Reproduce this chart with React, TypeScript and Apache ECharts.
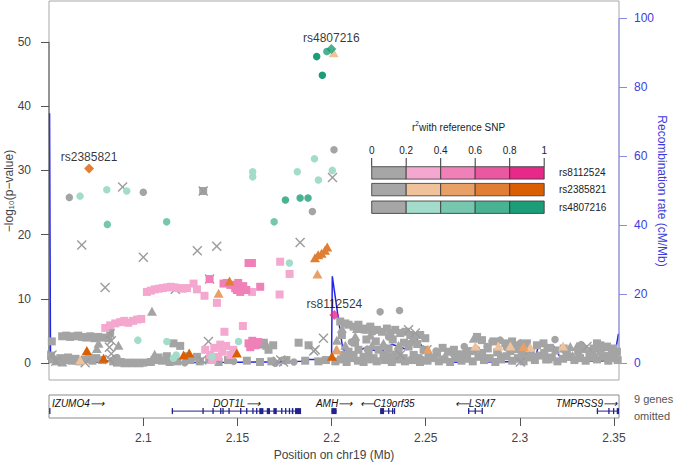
import React, { useEffect, useRef } from 'react';
import * as echarts from 'echarts';

const FONT = '"Liberation Sans", Arial, Helvetica, sans-serif';

// axis domains
const X_MIN = 2.0499;
const X_MAX = 2.3527;
const LOGP_MIN = -2.6;
const LOGP_MAX = 56.35;
const RATE_MIN = -4.84;
const RATE_MAX = 105.0;

const logpTicks = [0, 10, 20, 30, 40, 50];
const rateTicks = [0, 20, 40, 60, 80, 100];
const posTicks = [2.1, 2.15, 2.2, 2.25, 2.3, 2.35];
const legendTickLabels = ['0', '0.2', '0.4', '0.6', '0.8', '1'];

// recombination rate (cM/Mb)
const recombPos = [2.0502, 2.0507, 2.06, 2.078, 2.083, 2.09, 2.12, 2.15, 2.17, 2.184, 2.185, 2.2, 2.2004, 2.204, 2.206, 2.211, 2.218, 2.226, 2.232, 2.24, 2.245, 2.252, 2.26, 2.27, 2.275, 2.28, 2.3, 2.305, 2.308, 2.31, 2.318, 2.322, 2.34, 2.35, 2.3524];
const recombRate = [72.5, 0.8, 0.3, 0.4, 0.9, 0.3, 0.2, 0.3, 0.4, 0.6, 1.1, 1.1, 25.2, 11.5, 4.0, 3.0, 4.5, 3.2, 5.5, 4.0, 7.3, 1.9, 0.4, 0.3, 4.5, 0.4, 0.5, 3.9, 0.9, 5.3, 5.0, 1.2, 0.6, 0.9, 8.5];

// LD colour scales (r2 bins 0-0.2 .. 0.8-1)
const pinkScale = ['#a6a6a6', '#f4a7cf', '#ef80b8', '#ea58a1', '#e7298a'];
const orangeScale = ['#a6a6a6', '#f0c29c', '#e8a067', '#e07f33', '#d95f02'];
const greenScale = ['#a6a6a6', '#a3dccb', '#76c7ae', '#49b292', '#1b9e77'];
const legendRowNames = ['rs8112524', 'rs2385821', 'rs4807216'];

// index SNPs
const leadNames = ['rs4807216', 'rs2385821', 'rs8112524'];
const leadPos = [2.1999, 2.0712, 2.2015];
const leadLogP = [48.9, 30.3, 7.5];
const leadColors = [greenScale[4], orangeScale[4], pinkScale[4]];

// gray (r2 < 0.2) SNPs
const grayCircles = [
  [2.0607, 25.8], [2.1, 26.6], [2.2013, 33.2], [2.1898, 23.6],
  [2.1701, 0.0], [2.2258, 8.0], [2.2361, 8.2], [2.2162, 5.2], [2.2223, 4.9], [2.2303, 4.1], [2.2418, 3.1],
  [2.2826, 2.6], [2.2852, 3.4], [2.2896, 3.6], [2.3187, 3.7],
  [2.055, 0.4], [2.086, 0.9], [2.122, 0.1], [2.148, 0.3], [2.18, 0.2], [2.207, 1.0], [2.219, 2.2], [2.233, 1.4],
  [2.248, 0.6], [2.265, 1.3], [2.277, 2.2], [2.293, 2.4], [2.309, 1.1], [2.324, 1.9], [2.338, 2.0], [2.346, 1.2],
  [2.2105, 3.3], [2.2275, 2.6], [2.2555, 1.9], [2.2705, 2.6], [2.3005, 3.2], [2.3145, 2.3], [2.3325, 2.9],
];

const graySquares = [
  [2.1318, 26.8],
  [2.0514, 3.4], [2.0569, 4.2], [2.059, 4.3], [2.0611, 4.1], [2.0633, 4.2], [2.0654, 4.3], [2.0675, 4.1], [2.0696, 4.0],
  [2.0718, 4.2], [2.0739, 3.9], [2.076, 4.1], [2.0782, 4.0], [2.0815, 3.9], [2.0824, 4.9],
  [2.1081, 0.9], [2.1125, 1.1], [2.1196, 2.7], [2.1232, 1.1], [2.1285, 1.0], [2.116, 3.1],
  [2.1825, 3.2], [2.1878, 2.8], [2.1665, 2.1], [2.162, 2.9], [2.164, 3.2], [2.169, 2.8],
  [2.2046, 6.5], [2.2073, 6.2], [2.209, 6.0], [2.2117, 5.7], [2.2143, 6.0], [2.217, 5.4], [2.2188, 5.2], [2.2206, 5.7],
  [2.2241, 5.2], [2.2268, 4.9], [2.2294, 5.4], [2.2312, 4.7], [2.2338, 5.2], [2.2365, 4.7], [2.2392, 4.9], [2.2418, 4.4],
  [2.2436, 4.1], [2.2471, 4.4], [2.2498, 3.9],
  [2.2064, 1.3], [2.209, 1.8], [2.2117, 1.3], [2.2143, 2.1], [2.217, 1.0], [2.2197, 1.6], [2.2223, 0.8], [2.225, 2.1],
  [2.2276, 1.3], [2.2303, 2.3], [2.2329, 1.0], [2.2356, 1.8], [2.2383, 0.8], [2.2409, 2.6], [2.2436, 1.3], [2.2462, 0.8],
  [2.2489, 2.1], [2.2515, 1.0],
  [2.2055, 4.4], [2.2125, 3.2], [2.2185, 3.7], [2.2235, 3.4], [2.2325, 3.7], [2.2385, 3.2], [2.2455, 3.0],
  [2.2773, 4.1], [2.2799, 3.6], [2.2861, 3.4], [2.2923, 3.1], [2.2959, 3.4], [2.2985, 2.8], [2.3038, 3.1], [2.3091, 2.8],
  [2.3126, 3.1], [2.3233, 2.3], [2.3392, 2.3], [2.341, 3.1], [2.3428, 2.8], [2.3463, 2.6], [2.3498, 2.3], [2.3516, 1.8],
  [2.051, 1.2], [2.0525, 0.6], [2.054, 0.3], [2.056, 0.8], [2.058, 0.5], [2.06, 0.9], [2.062, 0.4], [2.064, 0.7],
  [2.066, 0.3], [2.069, 0.6], [2.071, 0.9], [2.073, 0.4], [2.075, 0.8], [2.078, 0.5], [2.084, 0.3], [2.086, 0.1],
  [2.088, 0.2], [2.09, 0.0], [2.092, 0.1], [2.094, 0.0], [2.096, 0.1], [2.098, 0.0], [2.1, 0.1], [2.104, 0.2],
  [2.106, 0.5], [2.11, 0.4], [2.114, 0.2], [2.118, 0.3], [2.125, 0.5], [2.13, 0.3], [2.135, 0.6], [2.14, 0.2],
  [2.145, 0.5], [2.155, 0.4], [2.162, 0.2], [2.168, 0.3], [2.176, 0.5], [2.186, 0.4], [2.193, 0.3], [2.197, 0.5],
  [2.202, 0.3], [2.205, 0.6], [2.208, 0.2], [2.211, 0.8], [2.214, 0.4], [2.217, 0.2], [2.221, 0.6], [2.224, 0.3],
  [2.228, 0.5], [2.232, 0.2], [2.235, 0.6], [2.239, 0.3], [2.243, 0.5], [2.247, 0.2], [2.251, 0.4], [2.254, 0.8],
  [2.257, 0.3], [2.26, 0.6], [2.263, 0.2], [2.266, 0.9], [2.269, 0.4], [2.272, 0.7], [2.275, 0.3], [2.278, 1.0],
  [2.281, 0.5], [2.284, 0.8], [2.287, 0.2], [2.29, 0.6], [2.293, 1.1], [2.296, 0.4], [2.299, 0.8], [2.302, 0.3],
  [2.305, 0.9], [2.308, 0.5], [2.311, 1.2], [2.314, 0.6], [2.317, 0.9], [2.32, 0.3], [2.323, 0.7], [2.326, 1.0],
  [2.329, 0.5], [2.332, 0.8], [2.335, 0.4], [2.338, 0.9], [2.341, 0.6], [2.344, 1.0], [2.347, 0.4], [2.35, 0.8],
  [2.352, 0.5],
  [2.256, 1.5], [2.262, 1.8], [2.268, 1.4], [2.274, 1.9], [2.28, 1.6], [2.288, 1.7], [2.295, 1.9], [2.301, 1.4],
  [2.306, 1.8], [2.313, 1.6], [2.319, 2.0], [2.325, 1.5], [2.331, 1.8], [2.337, 1.4], [2.343, 1.9], [2.349, 1.6],
  [2.259, 2.4], [2.265, 2.1], [2.283, 2.3], [2.298, 2.2], [2.316, 2.4], [2.334, 2.2], [2.345, 2.5],
];

const grayTriangles = [
  [2.1046, 8.1], [2.0753, 2.3], [2.0762, 3.1], [2.0868, 2.8], [2.1657, 2.8], [2.2028, 3.6], [2.2025, 2.1],
  [2.2055, 5.4], [2.2126, 4.2], [2.2135, 5.4], [2.2206, 4.4], [2.2073, 2.8], [2.2215, 2.8], [2.2276, 3.1],
  [2.2356, 2.8], [2.2755, 3.9], [2.3268, 2.6], [2.3304, 2.7],
  [2.052, 0.9], [2.057, 0.2], [2.065, 0.5], [2.106, 1.4], [2.136, 0.8], [2.21, 0.9], [2.23, 1.5], [2.245, 1.2],
  [2.26, 1.0], [2.271, 2.0], [2.29, 1.3], [2.304, 2.2], [2.315, 0.7], [2.328, 1.2], [2.34, 1.3],
];

const grayCrosses = [
  [2.089, 27.4], [2.2005, 28.9], [2.0673, 18.4], [2.1, 16.5], [2.1287, 17.5], [2.139, 18.2], [2.1833, 18.8],
  [2.0797, 11.8], [2.1318, 26.8], [2.117, 11.5], [2.1352, 13.1],
  [2.0824, 4.6], [2.083, 3.5], [2.082, 2.5], [2.083, 1.5], [2.0822, 0.6], [2.1346, 3.4], [2.1311, 0.5], [2.1382, 0.8],
  [2.0515, 1.3], [2.0535, 0.3], [2.0691, 0.1], [2.1712, 0.3], [2.173, 0.5], [2.1745, 0.2], [2.1913, 2.1],
  [2.1957, 3.9], [2.1905, 1.9], [2.2409, 5.2], [2.2445, 4.7], [2.2365, 1.3], [2.2507, 2.1], [2.3003, 0.2],
  [2.3357, 2.6],
];

// rs4807216 LD (circles)
const greenLight = [
  [2.0664, 26.0], [2.0806, 27.0], [2.0912, 26.8], [2.1581, 29.8], [2.1581, 29.0], [2.1818, 29.8], [2.1909, 31.8],
  [2.193, 28.5], [2.2004, 30.0], [2.1776, 15.6],
  [2.0971, 3.6], [2.1125, 3.4], [2.1175, 1.3], [2.116, 0.8], [2.1365, 1.0], [2.1506, 3.4],
];
const greenMid = [[2.0809, 21.6], [2.1124, 22.0], [2.1695, 22.0]];
const greenHigh = [[2.1755, 25.4], [2.1833, 25.7], [2.1875, 25.7], [2.1975, 48.5]];
const greenTop = [[2.1921, 47.7], [2.1951, 44.8]];

// rs8112524 LD (squares)
const pinkLight = [
  [2.0798, 5.5], [2.0824, 5.9], [2.0851, 6.2], [2.0877, 6.4], [2.0899, 6.6], [2.092, 6.3], [2.0946, 6.6], [2.0968, 6.8], [2.0989, 6.9],
  [2.1019, 11.1], [2.104, 11.3], [2.1061, 11.5], [2.1082, 11.6], [2.1104, 11.7], [2.1125, 11.8], [2.1146, 11.9], [2.1167, 11.8],
  [2.1188, 11.7], [2.121, 11.6], [2.1232, 11.7], [2.1267, 12.4], [2.1285, 11.5], [2.1325, 10.5], [2.1391, 9.4],
  [2.1431, 4.9], [2.1529, 5.8], [2.1577, 11.1], [2.1727, 15.8], [2.1777, 13.9], [2.1724, 10.7],
  [2.1329, 2.1], [2.1355, 1.3], [2.1377, 2.4], [2.1398, 1.0], [2.1419, 1.8], [2.144, 2.7], [2.1462, 1.3], [2.1478, 2.1],
  [2.1366, 0.5], [2.1409, 2.9],
];
const pinkMid = [
  [2.1352, 13.1], [2.1426, 12.4], [2.1444, 12.5], [2.1479, 12.2], [2.1497, 11.4], [2.1462, 12.2], [2.1488, 11.7],
  [2.1515, 11.1], [2.1531, 12.0], [2.1547, 11.4], [2.1504, 12.5], [2.1559, 15.6], [2.1577, 15.6], [2.1621, 11.9],
  [2.1559, 3.1], [2.1579, 3.5], [2.1595, 2.8], [2.1611, 3.3], [2.1568, 2.5],
];

// rs2385821 LD (triangles)
const orangeLight = [[2.0665, 0.5], [2.2011, 48.3], [2.2764, 2.7], [2.2887, 2.7], [2.295, 2.7], [2.3056, 2.5], [2.323, 2.7]];
const orangeMid = [[2.1925, 13.9], [2.14, 10.9], [2.2512, 2.2], [2.2029, 2.1], [2.302, 2.6]];
const orangeHigh = [[2.1912, 16.4], [2.1929, 16.9], [2.1947, 17.1], [2.1965, 17.6], [2.1977, 18.1], [2.1458, 12.8]];
const orangeTop = [[2.07, 2.0], [2.0789, 0.8], [2.1214, 1.3], [2.1244, 1.6], [2.1497, 1.6], [2.2002, 1.1]];

// genes
const geneNames = ['IZUMO4', 'DOT1L', 'AMH', 'C19orf35', 'LSM7', 'TMPRSS9'];
const geneStrand = ['+', '+', '+', '-', '-', '+'];
const geneStart = [2.05, 2.1151, 2.1999, 2.2258, 2.2725, 2.3409];
const geneEnd = [2.0503, 2.1838, 2.2027, 2.2332, 2.2798, 2.3527];
const geneExons = [
  [[2.05, 2.0502]],
  [[2.1151, 2.1152], [2.1314, 2.1315], [2.1367, 2.1368], [2.1408, 2.1409], [2.142, 2.1421], [2.1452, 2.1453], [2.1514, 2.1515],
   [2.1546, 2.1547], [2.1579, 2.158], [2.1599, 2.16], [2.1616, 2.1638], [2.1656, 2.1673], [2.1691, 2.1709], [2.1732, 2.1733],
   [2.1753, 2.1754], [2.1773, 2.1774], [2.1789, 2.1797], [2.1806, 2.1838]],
  [[2.1999, 2.2027]],
  [[2.2258, 2.2279], [2.23, 2.2301], [2.2321, 2.2322], [2.2331, 2.2332]],
  [[2.2725, 2.2726], [2.276, 2.2761], [2.2797, 2.2798]],
  [[2.3409, 2.341], [2.347, 2.3471], [2.3495, 2.3496], [2.3515, 2.3527]],
];
const omittedNote = ['9 genes', 'omitted'];

const GRAY = '#a4a4a4';
const GENE_COLOR = '#22228a';
const BLUE_TEXT = '#3c3cdc';
const BLUE_AXIS = '#8a8ae6';
const CROSS = 'path://M1,0L5,4L9,0L10,1L6,5L10,9L9,10L5,6L1,10L0,9L4,5L0,1Z';
const GENE_FONT = `italic 10px ${FONT}`;

let measureCtx: CanvasRenderingContext2D | null = null;
function textWidth(text: string, font: string) {
  if (!measureCtx) measureCtx = document.createElement('canvas').getContext('2d');
  if (!measureCtx) return text.length * 6;
  measureCtx.font = font;
  return measureCtx.measureText(text).width;
}

function pointSeries(data: number[][], symbol: string, size: any, color: string, z: number) {
  return {
    type: 'scatter', xAxisIndex: 0, yAxisIndex: 0, data, symbol, symbolSize: size,
    itemStyle: { color, opacity: 1 }, z, silent: true, clip: false,
  };
}

export default function App() {
  const ref = useRef<HTMLDivElement>(null);
  useEffect(() => {
    if (!ref.current) return;
    const chart = echarts.init(ref.current, null, { renderer: 'svg' });

    // legend graphics
    const lgX = 371.7, segW = 34.5, rowH = 12.4;
    const rowsY = [166.7, 183.4, 201.0];
    const scales = [pinkScale, orangeScale, greenScale];
    const legendEls: any[] = [];
    legendEls.push({ type: 'text', x: 412, y: 127.5, style: { text: 'r', font: `10px ${FONT}`, fill: '#222', align: 'left', verticalAlign: 'middle' } });
    legendEls.push({ type: 'text', x: 415.3, y: 123.5, style: { text: '2', font: `6.5px ${FONT}`, fill: '#222', align: 'left', verticalAlign: 'middle' } });
    legendEls.push({ type: 'text', x: 419, y: 127.5, style: { text: 'with reference SNP', font: `10px ${FONT}`, fill: '#222', align: 'left', verticalAlign: 'middle' } });
    legendTickLabels.forEach((t, i) => {
      legendEls.push({ type: 'text', x: lgX + i * segW, y: 150.5, style: { text: t, font: `10px ${FONT}`, fill: '#222', align: 'center', verticalAlign: 'middle' } });
      legendEls.push({ type: 'line', shape: { x1: lgX + i * segW, y1: 158, x2: lgX + i * segW, y2: rowsY[0] }, style: { stroke: '#333', lineWidth: 1 } });
    });
    scales.forEach((sc, r) => {
      sc.forEach((c, i) => {
        legendEls.push({ type: 'rect', shape: { x: lgX + i * segW, y: rowsY[r], width: segW, height: rowH }, style: { fill: c, stroke: '#333', lineWidth: 0.8 } });
      });
      legendEls.push({ type: 'text', x: 559, y: rowsY[r] + rowH / 2, style: { text: legendRowNames[r], font: `10px ${FONT}`, fill: '#222', align: 'left', verticalAlign: 'middle' } });
    });

    const option: any = {
      animation: false,
      backgroundColor: '#fff',
      textStyle: { fontFamily: FONT },
      grid: [
        { left: 49, top: 1, width: 570, height: 379, show: true, borderColor: '#a8a8a8', borderWidth: 1, backgroundColor: 'transparent', containLabel: false, outerBoundsMode: 'none' },
        { left: 49, top: 395, width: 570, height: 23, show: true, borderColor: '#8a8a8a', borderWidth: 1, backgroundColor: 'transparent', containLabel: false, outerBoundsMode: 'none' },
      ],
      xAxis: [
        { type: 'value', gridIndex: 0, min: X_MIN, max: X_MAX, show: false },
        {
          type: 'value', gridIndex: 1, min: X_MIN, max: X_MAX, position: 'bottom',
          axisLine: { show: false },
          axisTick: { show: true, length: 8, customValues: posTicks, lineStyle: { color: '#555' } },
          axisLabel: { show: true, customValues: posTicks, formatter: (v: number) => String(+v.toFixed(2)), color: '#444', fontSize: 12, fontFamily: FONT, margin: 14 },
          splitLine: { show: false },
          name: 'Position on chr19 (Mb)', nameLocation: 'middle', nameGap: 31,
          nameTextStyle: { color: '#444', fontSize: 12, fontFamily: FONT },
        },
      ],
      yAxis: [
        {
          type: 'value', gridIndex: 0, min: LOGP_MIN, max: LOGP_MAX, position: 'left',
          axisLine: { show: false },
          axisTick: { show: true, length: 8, customValues: logpTicks, lineStyle: { color: '#555' } },
          axisLabel: { show: true, customValues: logpTicks, color: '#444', fontSize: 12, fontFamily: FONT, margin: 18 },
          splitLine: { show: false },
        },
        {
          type: 'value', gridIndex: 0, min: RATE_MIN, max: RATE_MAX, position: 'right',
          axisLine: { show: false },
          axisTick: { show: true, length: 8, customValues: rateTicks, lineStyle: { color: BLUE_AXIS } },
          axisLabel: { show: true, customValues: rateTicks, color: BLUE_TEXT, fontSize: 12, fontFamily: FONT, margin: 15 },
          splitLine: { show: false },
        },
        { type: 'value', gridIndex: 1, min: 0, max: 1, show: false },
      ],
      graphic: [
        { type: 'text', x: 9, y: 191, rotation: Math.PI / 2, style: { text: '\u2212log\u2081\u2080(p\u2212value)', font: `12px ${FONT}`, fill: '#444', align: 'center', verticalAlign: 'middle' } },
        { type: 'text', x: 662, y: 191, rotation: -Math.PI / 2, style: { text: 'Recombination rate (cM/Mb)', font: `12px ${FONT}`, fill: BLUE_TEXT, align: 'center', verticalAlign: 'middle' } },
        { type: 'text', x: 634, y: 399, style: { text: omittedNote[0], font: `11px ${FONT}`, fill: '#555', align: 'left', verticalAlign: 'middle' } },
        { type: 'text', x: 634, y: 416, style: { text: omittedNote[1], font: `11px ${FONT}`, fill: '#555', align: 'left', verticalAlign: 'middle' } },
        ...legendEls,
      ],
      series: [
        {
          type: 'line', xAxisIndex: 0, yAxisIndex: 1, data: recombPos.map((p, i) => [p, recombRate[i]]),
          showSymbol: false, symbol: 'none', lineStyle: { color: '#2525e8', width: 1.5 }, z: 1, silent: true,
        },
        {
          type: 'line', xAxisIndex: 0, yAxisIndex: 0, data: [[X_MIN, logpTicks[0]], [X_MIN, logpTicks[logpTicks.length - 1]]],
          symbol: 'none', lineStyle: { color: '#555', width: 1 }, z: 1, silent: true, clip: false,
        },
        {
          type: 'line', xAxisIndex: 0, yAxisIndex: 1, data: [[X_MAX, rateTicks[0]], [X_MAX, rateTicks[rateTicks.length - 1]]],
          symbol: 'none', lineStyle: { color: BLUE_AXIS, width: 1 }, z: 1, silent: true, clip: false,
        },
        pointSeries(graySquares, 'rect', 8, GRAY, 2),
        pointSeries(grayTriangles, 'triangle', [10, 9], GRAY, 2),
        pointSeries(grayCircles, 'circle', 7.5, GRAY, 2),
        pointSeries(grayCrosses, CROSS, 10, '#9c9c9c', 2),
        pointSeries(pinkLight, 'rect', 8, pinkScale[1], 3),
        pointSeries(pinkMid, 'rect', 8, pinkScale[2], 3),
        pointSeries(greenLight, 'circle', 7.5, greenScale[1], 3),
        pointSeries(greenMid, 'circle', 7.5, greenScale[2], 3),
        pointSeries(greenHigh, 'circle', 7.5, greenScale[3], 3),
        pointSeries(greenTop, 'circle', 7.5, greenScale[4], 3),
        pointSeries(orangeLight, 'triangle', [10, 9], orangeScale[1], 3),
        pointSeries(orangeMid, 'triangle', [10, 9], orangeScale[2], 3),
        pointSeries(orangeHigh, 'triangle', [10, 9], orangeScale[3], 3),
        pointSeries(orangeTop, 'triangle', [10, 9], orangeScale[4], 3),
        {
          type: 'scatter', xAxisIndex: 0, yAxisIndex: 0, symbol: 'diamond', symbolSize: 10, z: 4, silent: true,
          data: leadNames.map((n, i) => ({ name: n, value: [leadPos[i], leadLogP[i]], itemStyle: { color: leadColors[i] } })),
          label: { show: true, position: 'top', distance: 0, formatter: '{b}', color: '#000', fontSize: 12, fontFamily: FONT },
        },
        {
          type: 'custom', xAxisIndex: 1, yAxisIndex: 2, silent: true, clip: false,
          data: geneNames.map((_, i) => [geneStart[i], geneEnd[i]]),
          encode: { x: [0, 1] },
          renderItem: (params: any, api: any) => {
            const i = params.dataIndex;
            const cs = params.coordSys;
            const lineY = api.coord([geneStart[i], 0.3])[1];
            const labelY = api.coord([geneStart[i], 0.62])[1];
            const xs = api.coord([geneStart[i], 0])[0];
            const xe = Math.min(api.coord([geneEnd[i], 0])[0], cs.x + cs.width);
            const children: any[] = [
              { type: 'line', shape: { x1: xs, y1: lineY, x2: xe, y2: lineY }, style: { stroke: GENE_COLOR, lineWidth: 1 } },
            ];
            geneExons[i].forEach(([s, e]) => {
              const a = api.coord([s, 0])[0];
              const b = Math.min(api.coord([e, 0])[0], cs.x + cs.width);
              children.push({ type: 'rect', shape: { x: a, y: lineY - 3, width: Math.max(b - a, 1.3), height: 6 }, style: { fill: GENE_COLOR } });
            });
            const label = geneStrand[i] === '+' ? geneNames[i] + '\u27F6' : '\u27F5' + geneNames[i];
            const w = textWidth(label, GENE_FONT);
            let left = (xs + xe) / 2 - w / 2;
            if (left < cs.x + 3) left = cs.x + 3;
            if (left + w > cs.x + cs.width - 2) left = cs.x + cs.width - 2 - w;
            children.push({ type: 'text', x: left, y: labelY, style: { text: label, font: GENE_FONT, fill: '#111', align: 'left', verticalAlign: 'middle' } });
            return { type: 'group', children };
          },
        },
      ],
    };
    chart.setOption(option);
    return () => chart.dispose();
  }, []);
  return <div ref={ref} style={{ position: 'fixed', left: 0, top: 0, width: 677, height: 464 }} />;
}
